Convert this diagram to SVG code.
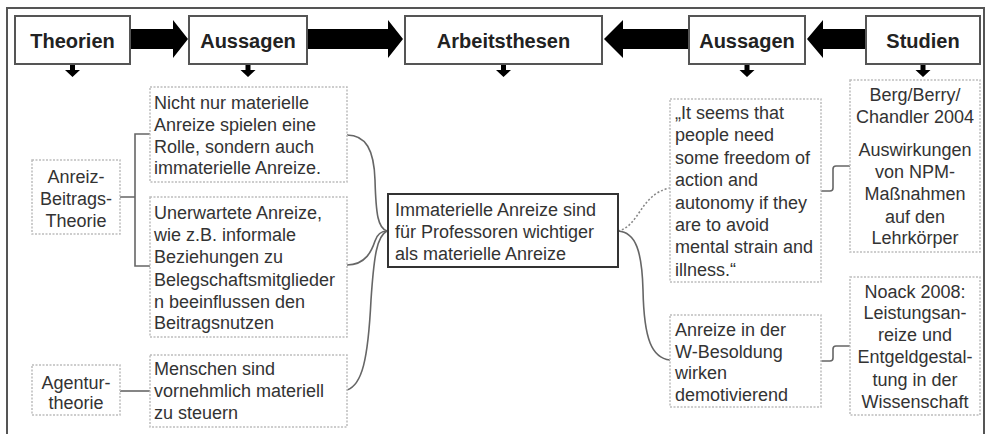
<svg xmlns="http://www.w3.org/2000/svg" width="992" height="434" viewBox="0 0 992 434">
<style>
text{font-family:"Liberation Sans",Arial,sans-serif;fill:#333;}
.h{font-size:20px;font-weight:bold;text-anchor:middle;fill:#222;}
.t{font-size:18px;}
.c{text-anchor:middle;}
.hb{fill:#fff;stroke:#555;stroke-width:2;}
.db{fill:#fff;stroke:#bdbdbd;stroke-width:1.5;stroke-dasharray:2 1.5;}
.mb{fill:#fff;stroke:#333;stroke-width:2;}
.ln{fill:none;stroke:#666;stroke-width:1.6;}
.dl{fill:none;stroke:#888;stroke-width:1.6;stroke-dasharray:2 2;}
.ar{fill:#000;}
</style>
<rect x="0" y="0" width="992" height="434" fill="#fff"/>
<path d="M7,434 L7,8 L984,8 L984,434" fill="none" stroke="#555" stroke-width="2"/>

<g id="connectors">
<path class="ar" d="M130,29 L173,29 L173,20 L188,39 L173,58 L173,49 L130,49 Z"/>
<path class="ar" d="M307,29 L388,29 L388,20 L403,39 L388,58 L388,49 L307,49 Z"/>
<path class="ar" d="M689,29 L623,29 L623,20 L604,39 L623,58 L623,49 L689,49 Z"/>
<path class="ar" d="M866,29 L823,29 L823,20 L807,39 L823,58 L823,49 L866,49 Z"/>
<path class="ar" d="M70,64 L75,64 L75,70 L80,70 L72.5,77 L65,70 L70,70 Z"/>
<path class="ar" d="M245.5,64 L250.5,64 L250.5,70 L255.5,70 L248,77 L240.5,70 L245.5,70 Z"/>
<path class="ar" d="M501,64 L506,64 L506,70 L511,70 L503.5,77 L496,70 L501,70 Z"/>
<path class="ar" d="M744.5,64 L749.5,64 L749.5,70 L754.5,70 L747,77 L739.5,70 L744.5,70 Z"/>
<path class="ar" d="M920.5,64 L925.5,64 L925.5,70 L930.5,70 L923,77 L915.5,70 L920.5,70 Z"/>
<path class="ln" d="M120,197 L135,197 M150,134 L135,134 L135,266 L150,266"/>
<path class="ln" d="M120,391 L150,391"/>
<path class="ln" d="M347,135 C366,135 374,150 375,180 C376,215 378,228 387,231"/>
<path class="ln" d="M347,265 C366,265 372,250 375,241 C377,235 380,231 387,231"/>
<path class="ln" d="M347,390 C362,385 368,360 371,300 C374,255 377,236 387,231"/>
<path class="dl" d="M618,231 C640,226 640,194 670,188"/>
<path class="ln" d="M618,231 C636,232 642,252 643,290 C644,340 652,358 670,360"/>
<path class="ln" d="M821,191 L830,191 Q833,191 833,188 L833,169 Q833,166 836,166 L850,166"/>
<path class="ln" d="M821,361 L830,361 Q833,361 833,358 L833,349 Q833,346 836,346 L850,346"/>
</g>

<g id="theorien"><rect class="hb" x="15" y="16" width="115" height="48"/><text class="h" x="72.5" y="48">Theorien</text></g>
<g id="aussagen1"><rect class="hb" x="189" y="16" width="118" height="48"/><text class="h" x="248" y="48">Aussagen</text></g>
<g id="arbeitsthesen"><rect class="hb" x="405" y="16" width="197" height="48"/><text class="h" x="503.5" y="48">Arbeitsthesen</text></g>
<g id="aussagen2"><rect class="hb" x="689" y="16" width="116" height="48"/><text class="h" x="747" y="48">Aussagen</text></g>
<g id="studien"><rect class="hb" x="866" y="16" width="114" height="48"/><text class="h" x="923" y="48">Studien</text></g>

<g id="anreiz-beitrags"><rect class="db" x="32" y="160" width="88" height="74"/>
<text class="t c" x="76" y="183">Anreiz-</text><text class="t c" x="76" y="205">Beitrags-</text><text class="t c" x="76" y="227">Theorie</text></g>
<g id="agentur"><rect class="db" x="32" y="365" width="88" height="50"/>
<text class="t c" x="76" y="389">Agentur-</text><text class="t c" x="76" y="409">theorie</text></g>

<g id="aussage1"><rect class="db" x="150" y="87" width="197" height="95"/>
<text class="t" x="154" y="109">Nicht nur materielle</text><text class="t" x="154" y="131">Anreize spielen eine</text><text class="t" x="154" y="153">Rolle, sondern auch</text><text class="t" x="154" y="174">immaterielle Anreize.</text></g>
<g id="aussage2"><rect class="db" x="150" y="197" width="197" height="140"/>
<text class="t" x="154" y="219">Unerwartete Anreize,</text><text class="t" x="154" y="241">wie z.B. informale</text><text class="t" x="154" y="263">Beziehungen zu</text><text class="t" x="154" y="286">Belegschaftsmitglieder</text><text class="t" x="154" y="308">n beeinflussen den</text><text class="t" x="154" y="329">Beitragsnutzen</text></g>
<g id="aussage3"><rect class="db" x="150" y="355" width="197" height="72"/>
<text class="t" x="154" y="375">Menschen sind</text><text class="t" x="154" y="397">vornehmlich materiell</text><text class="t" x="154" y="419">zu steuern</text></g>

<g id="these"><rect class="mb" x="388" y="194" width="230" height="73"/>
<text class="t" x="395" y="216">Immaterielle Anreize sind</text><text class="t" x="395" y="238">für Professoren wichtiger</text><text class="t" x="395" y="260">als materielle Anreize</text></g>

<g id="zitat"><rect class="db" x="670" y="99" width="151" height="183"/>
<text class="t" x="675" y="119">„It seems that</text><text class="t" x="675" y="141">people need</text><text class="t" x="675" y="164">some freedom of</text><text class="t" x="675" y="186">action and</text><text class="t" x="675" y="209">autonomy if they</text><text class="t" x="675" y="231">are to avoid</text><text class="t" x="675" y="253">mental strain and</text><text class="t" x="675" y="276">illness.“</text></g>
<g id="wbesoldung"><rect class="db" x="670" y="315" width="151" height="92"/>
<text class="t" x="675" y="336">Anreize in der</text><text class="t" x="675" y="358">W-Besoldung</text><text class="t" x="675" y="379">wirken</text><text class="t" x="675" y="401">demotivierend</text></g>

<g id="berg"><rect class="db" x="850" y="80" width="130" height="172"/>
<text class="t c" x="915" y="101">Berg/Berry/</text><text class="t c" x="915" y="123">Chandler 2004</text><text class="t c" x="915" y="156">Auswirkungen</text><text class="t c" x="915" y="178">von NPM-</text><text class="t c" x="915" y="200">Maßnahmen</text><text class="t c" x="915" y="223">auf den</text><text class="t c" x="915" y="244">Lehrkörper</text></g>
<g id="noack"><rect class="db" x="850" y="277" width="130" height="138"/>
<text class="t c" x="915" y="298">Noack 2008:</text><text class="t c" x="915" y="319">Leistungsan-</text><text class="t c" x="915" y="341">reize und</text><text class="t c" x="915" y="363">Entgeldgestal-</text><text class="t c" x="915" y="386">tung in der</text><text class="t c" x="915" y="408">Wissenschaft</text></g>
</svg>
